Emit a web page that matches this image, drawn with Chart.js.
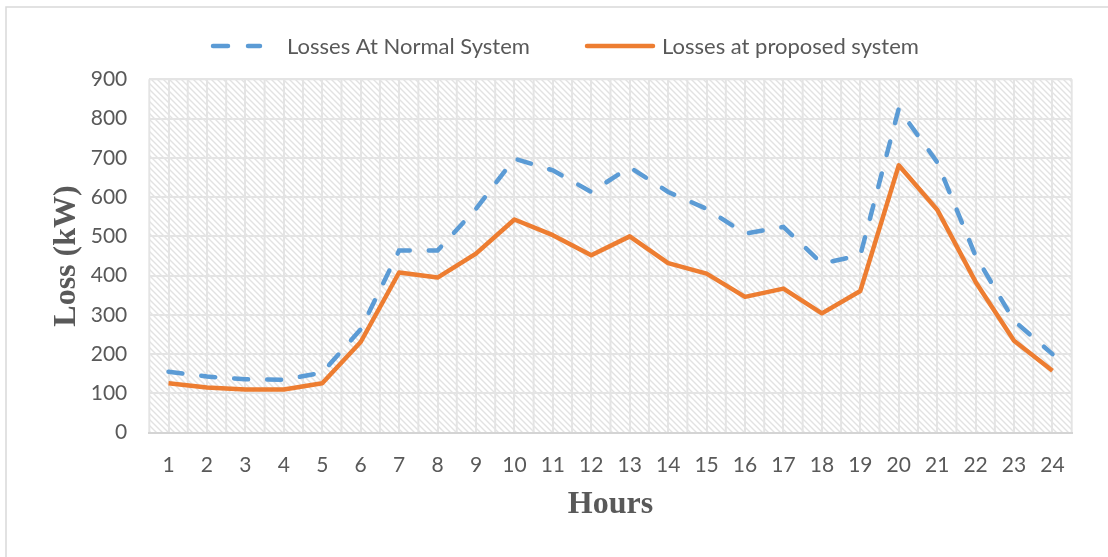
<!DOCTYPE html>
<html>
<head>
<meta charset="utf-8">
<script src="https://cdn.jsdelivr.net/npm/chart.js@4.4.1/dist/chart.umd.min.js"></script>
<style>
  html, body { margin: 0; padding: 0; background: #fff; }
  #wrap { width: 1108px; height: 557px; position: relative; }
</style>
</head>
<body>
<div id="wrap"><canvas id="lossChart"></canvas></div>
<script>
const HOURS = ["1","2","3","4","5","6","7","8","9","10","11","12","13","14","15","16","17","18","19","20","21","22","23","24"];
const NORMAL_LOSS = [155, 143, 136, 135, 153, 263, 464, 464, 570, 698, 668, 613, 676, 613, 570, 507, 524, 431, 452, 825, 689, 450, 285, 200];
const PROPOSED_LOSS = [126, 115, 110, 110, 126, 231, 408, 395, 456, 543, 503, 452, 500, 432, 405, 346, 367, 304, 361, 681, 568, 384, 234, 158];
const Y_TICKS = [0, 100, 200, 300, 400, 500, 600, 700, 800, 900];

const TEXT_COLOR = "#595959";
const GRID_COLOR = "#e4e4e4";

/* ===== hatch background + half-step vertical gridlines ===== */
function makeHatch() {
  const c = document.createElement("canvas");
  c.width = 6;
  c.height = 6;
  const g = c.getContext("2d");
  g.strokeStyle = "#e2e2e2";
  g.lineWidth = 1.4;
  g.beginPath();
  g.moveTo(-1, -1); g.lineTo(7, 7);
  g.moveTo(-1, 5); g.lineTo(1, 7);
  g.moveTo(5, -1); g.lineTo(7, 1);
  g.stroke();
  return c;
}

const plotBackground = {
  id: "plotBackground",
  beforeDraw(chart) {
    const { ctx, chartArea: a, scales } = chart;
    ctx.save();
    // outer chart border (only left/top fall inside the picture)
    ctx.strokeStyle = "#d9d9d9";
    ctx.lineWidth = 1.5;
    ctx.strokeRect(6, 7, 1130, 580);

    ctx.fillStyle = ctx.createPattern(makeHatch(), "repeat");
    ctx.fillRect(a.left, a.top, a.right - a.left, a.bottom - a.top);

    // boundary lines between hours
    const x = scales.x;
    const half = (x.getPixelForValue(1) - x.getPixelForValue(0)) / 2;
    ctx.strokeStyle = GRID_COLOR;
    ctx.lineWidth = 2;
    ctx.beginPath();
    HOURS.forEach((h, i) => {
      const px = x.getPixelForValue(i) - half;
      ctx.moveTo(px, a.top);
      ctx.lineTo(px, a.bottom);
    });
    ctx.moveTo(a.right, a.top);
    ctx.lineTo(a.right, a.bottom);
    ctx.moveTo(a.left, a.top);
    ctx.lineTo(a.right, a.top);
    ctx.stroke();
    ctx.restore();
  },
};

/* ===== legend drawn like the Excel one ===== */
const LEGEND_SLOTS = [
  { x1: 211, x2: 262, textX: 287 },
  { x1: 585, x2: 655, textX: 662 },
];

const excelLegend = {
  id: "excelLegend",
  afterDraw(chart) {
    const { ctx } = chart;
    const y = 46;
    ctx.save();
    chart.data.datasets.forEach((ds, i) => {
      const slot = LEGEND_SLOTS[i];
      ctx.strokeStyle = ds.borderColor;
      ctx.lineWidth = ds.borderWidth;
      ctx.lineCap = "round";
      ctx.setLineDash(ds.borderDash ? [15, 20] : []);
      ctx.beginPath();
      ctx.moveTo(slot.x1 + 2, y);
      ctx.lineTo(slot.x2 - 2, y);
      ctx.stroke();
      ctx.setLineDash([]);
      ctx.fillStyle = TEXT_COLOR;
      ctx.font = "22px Lato";
      ctx.textBaseline = "middle";
      ctx.fillText(ds.label, slot.textX, y + 1);
    });
    ctx.restore();
  },
};

new Chart(document.getElementById("lossChart"), {
  type: "line",
  data: {
    labels: HOURS,
    datasets: [
      {
        label: "Losses At Normal System",
        data: NORMAL_LOSS,
        borderColor: "#5b9bd5",
        borderWidth: 4.5,
        borderDash: [14, 19],
        borderCapStyle: "round",
        pointRadius: 0,
        tension: 0,
      },
      {
        label: "Losses at proposed system",
        data: PROPOSED_LOSS,
        borderColor: "#ed7d31",
        borderWidth: 4.5,
        borderJoinStyle: "round",
        pointRadius: 0,
        tension: 0,
      },
    ],
  },
  options: {
    responsive: true,
    maintainAspectRatio: false,
    animation: false,
    layout: { padding: { left: 0, right: 36.3, top: 79.3, bottom: 0 } },
    plugins: {
      legend: { display: false },
      tooltip: { enabled: false },
    },
    scales: {
      x: {
        offset: true,
        grid: { color: GRID_COLOR, lineWidth: 2, drawTicks: false },
        border: { color: "#d4d4d4", width: 2 },
        ticks: { color: TEXT_COLOR, font: { family: "Lato", size: 21 }, padding: 20, maxRotation: 0 },
        title: {
          display: true,
          text: "Hours",
          color: TEXT_COLOR,
          font: { family: "Liberation Serif", size: 32, weight: "bold" },
          padding: { top: 0, bottom: 33 },
        },
        afterFit: (s) => { s.height = 124.3; },
      },
      y: {
        min: 0,
        max: 900,
        afterBuildTicks: (s) => { s.ticks = Y_TICKS.map((v) => ({ value: v })); },
        grid: { color: GRID_COLOR, lineWidth: 2, drawTicks: false },
        border: { display: false },
        ticks: { color: TEXT_COLOR, font: { family: "Lato", size: 21 }, padding: 22 },
        title: {
          display: true,
          text: "Loss (kW)",
          color: TEXT_COLOR,
          font: { family: "Liberation Serif", size: 32, weight: "bold" },
          padding: { top: 48, bottom: 0 },
        },
        afterFit: (s) => { s.width = 149.3; },
      },
    },
  },
  plugins: [plotBackground, excelLegend],
});
</script>
</body>
</html>
